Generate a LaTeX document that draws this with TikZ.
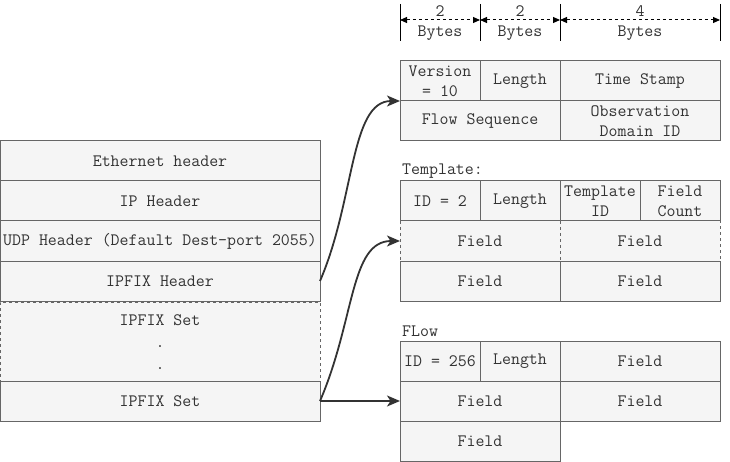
\documentclass[tikz,border=0pt]{standalone}
\usepackage{fontspec}
\usetikzlibrary{arrows.meta}
\definecolor{cellfill}{HTML}{F5F5F5}
\definecolor{cellline}{HTML}{666666}
\definecolor{txt}{HTML}{333333}
\begin{document}
\begin{tikzpicture}[x=1pt,y=-1pt,
  font=\ttfamily\fontsize{17.4}{20}\selectfont,
  cell/.style={draw=cellline, fill=cellfill, text=txt, inner sep=0pt, outer sep=0pt,
    align=center, line width=1pt, minimum width=80pt, minimum height=40pt},
  wide/.style={minimum width=160pt},
  full/.style={minimum width=320pt},
  dcell/.style={cell, dash pattern=on 3pt off 3pt},
  lbl/.style={text=txt, inner sep=0pt, anchor=west},
  tick/.style={draw=black, line width=1pt},
  span/.style={draw=black, line width=1pt, dash pattern=on 3pt off 3pt,
    {Triangle[length=7pt,width=6pt]}-{Triangle[length=7pt,width=6pt]}},
  conn/.style={draw=txt, line width=1.8pt, -{Stealth[length=13pt,width=11pt,inset=3.5pt]}},
  scaletxt/.style={text=txt, inner sep=0pt, align=center}
]
\useasboundingbox (0,0) rectangle (730,462);

% byte scale
\coordinate (s0a) at (400,4);  \coordinate (s0b) at (400,41);
\coordinate (s1a) at (480,4);  \coordinate (s1b) at (480,41);
\coordinate (s2a) at (560,4);  \coordinate (s2b) at (560,41);
\coordinate (s3a) at (720,4);  \coordinate (s3b) at (720,41);
\coordinate (m0) at (400,20); \coordinate (m1) at (480,20);
\coordinate (m2) at (560,20); \coordinate (m3) at (720,20);
\draw[tick] (s0a) -- (s0b);
\draw[tick] (s1a) -- (s1b);
\draw[tick] (s2a) -- (s2b);
\draw[tick] (s3a) -- (s3b);
\draw[span] (m0) -- (m1);
\draw[span] (m1) -- (m2);
\draw[span] (m2) -- (m3);
\node[scaletxt] (b1) at (440,23) {2\\Bytes};
\node[scaletxt] (b2) at (520,23) {2\\Bytes};
\node[scaletxt] (b3) at (640,23) {4\\Bytes};

% left stack
\node[dcell, full, minimum height=80pt] (sets) at (160,342) {IPFIX Set\\[2pt].\\[2pt].};
\node[cell, full] (eth) at (160,161) {Ethernet header};
\node[cell, full] (ip) at (160,201) {IP Header};
\node[cell, full] (udp) at (160,241) {UDP Header (Default Dest-port 2055)};
\node[cell, full] (ipfixh) at (160,281) {IPFIX Header};
\node[cell, full] (set2) at (160,401) {IPFIX Set};

% IPFIX header table
\node[cell] (ver) at (440,81) {Version\\= 10};
\node[cell] (len1) at (520,81) {Length};
\node[cell, wide] (ts) at (640,81) {Time Stamp};
\node[cell, wide] (fseq) at (480,121) {Flow Sequence};
\node[cell, wide] (odid) at (640,121) {Observation\\Domain ID};

% Template set
\node[lbl] (tlabel) at (402,171) {Template:};
\node[dcell, wide] (tf1) at (480,241) {Field};
\node[dcell, wide] (tf2) at (640,241) {Field};
\node[cell] (tid) at (440,201) {ID = 2};
\node[cell] (tlen) at (520,201) {Length};
\node[cell] (ttid) at (600,201) {Template\\ID};
\node[cell] (tfc) at (680,201) {Field\\Count};
\node[cell, wide] (tf3) at (480,281) {Field};
\node[cell, wide] (tf4) at (640,281) {Field};

% Flow set
\node[lbl] (flabel) at (402,331) {FLow};
\node[cell] (fid) at (440,361) {ID = 256};
\node[cell] (flen) at (520,361) {Length};
\node[cell, wide] (ff0) at (640,361) {Field};
\node[cell, wide] (ff1) at (480,401) {Field};
\node[cell, wide] (ff2) at (640,401) {Field};
\node[cell, wide] (ff3) at (480,441) {Field};

% connectors
\draw[conn] (ipfixh.east) .. controls (355,200) and (350,101) .. (ver.south west);
\draw[conn] (set2.east) .. controls (355,320) and (350,241) .. (tf1.west);
\draw[conn] (set2.east) -- (ff1.west);
\end{tikzpicture}
\end{document}
